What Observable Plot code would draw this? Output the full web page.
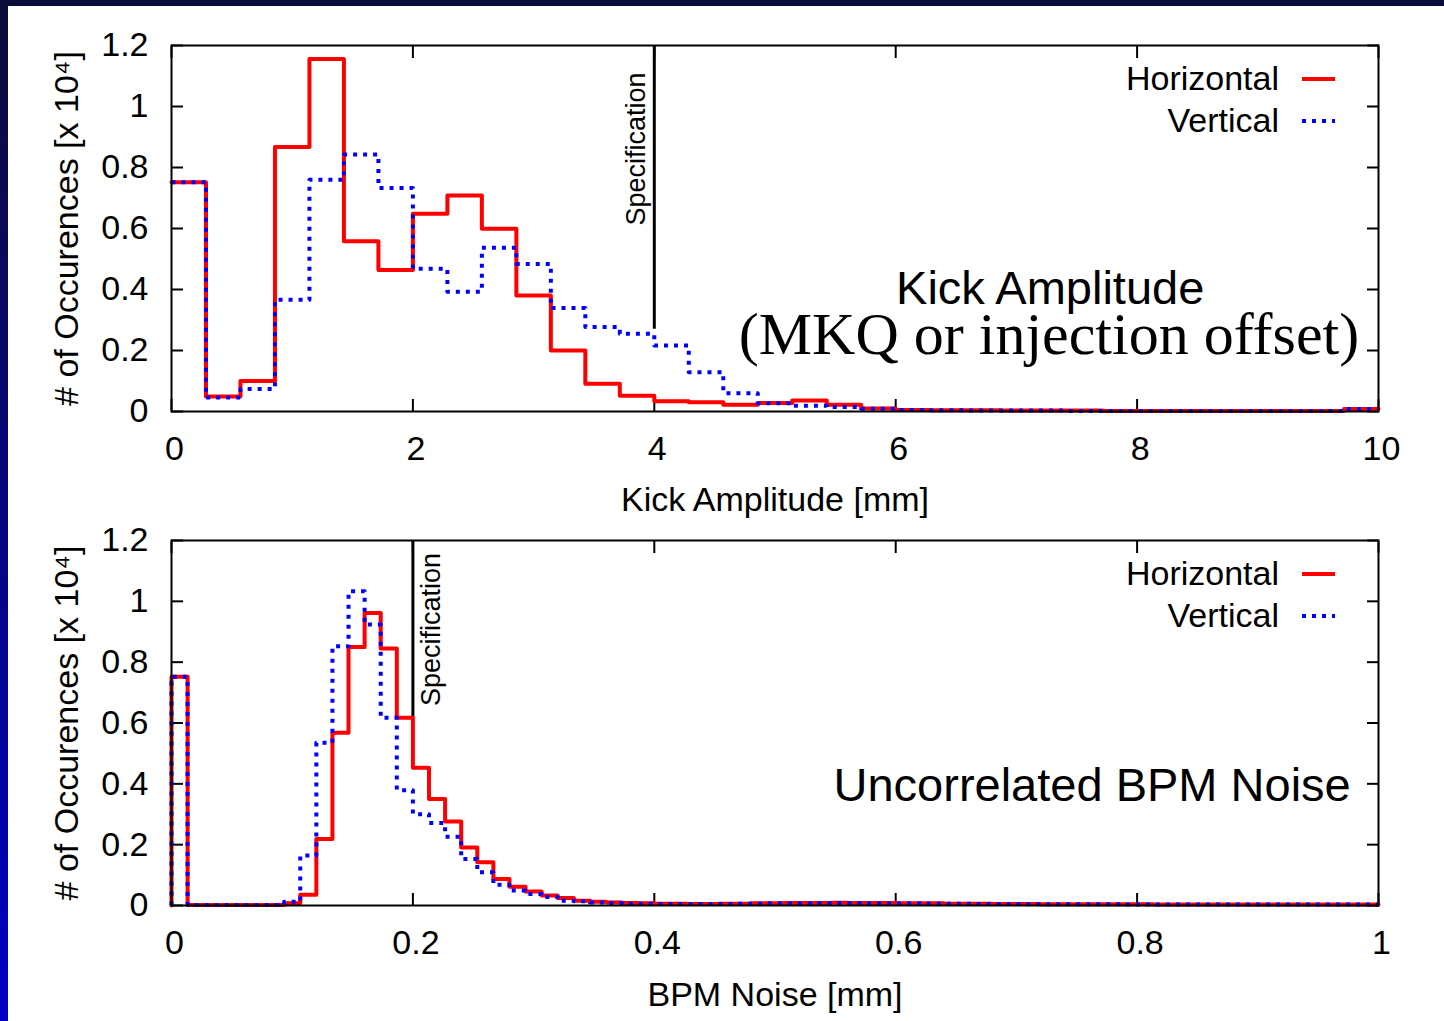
<!DOCTYPE html>
<html><head><meta charset="utf-8">
<script src="https://cdn.jsdelivr.net/npm/d3@7"></script>
<script src="https://cdn.jsdelivr.net/npm/@observablehq/plot@0.6"></script>
<style>
html,body{margin:0;padding:0;}
body{width:1444px;height:1021px;overflow:hidden;position:relative;background:linear-gradient(to bottom,#0c0c3a 0%,#0000c4 100%);}
#page{position:absolute;left:8px;top:6px;width:1436px;height:1015px;background:#fff;}
#page svg{display:block;}
</style></head><body><div id="page"></div>
<script>
// ---------- data ----------
const kickDomain = [0, 10];
const kickTicks = [0, 2, 4, 6, 8, 10];
const kickHorizontal = [0.752, 0.049, 0.100, 0.867, 1.156, 0.558, 0.464, 0.648, 0.708, 0.599, 0.380, 0.200, 0.091, 0.052, 0.034, 0.030, 0.022, 0.028, 0.036, 0.022, 0.010, 0.005, 0.004, 0.004, 0.003, 0.003, 0.003, 0.002, 0.002, 0.002, 0.002, 0.002, 0.002, 0.002, 0.008];
const kickVertical   = [0.752, 0.046, 0.074, 0.366, 0.760, 0.843, 0.733, 0.468, 0.393, 0.537, 0.484, 0.339, 0.277, 0.255, 0.216, 0.129, 0.060, 0.027, 0.019, 0.015, 0.009, 0.005, 0.004, 0.003, 0.003, 0.003, 0.002, 0.002, 0.002, 0.002, 0.002, 0.002, 0.002, 0.002, 0.008];
const kickSpec = [{x: 4, y1: 0.27, y2: 1.2, labelY: 0.61}];
const kickNotes = [
  {x: 7.28, y: 0.352, text: "Kick Amplitude", serif: false, size: 47},
  {x: 7.27, y: 0.188, text: "(MKQ or injection offset)", serif: true, size: 60}
];

const bpmDomain = [0, 1];
const bpmTicks = [0, 0.2, 0.4, 0.6, 0.8, 1];
const bpmHorizontal = [0.752, 0.002, 0.002, 0.002, 0.002, 0.002, 0.002, 0.007, 0.035, 0.219, 0.568, 0.850, 0.962, 0.845, 0.617, 0.453, 0.350, 0.276, 0.191, 0.142, 0.087, 0.062, 0.046, 0.033, 0.025, 0.016, 0.012, 0.010, 0.008, 0.007, 0.006, 0.006, 0.005, 0.005, 0.006, 0.006, 0.007, 0.007, 0.008, 0.008, 0.008, 0.009, 0.008, 0.008, 0.008, 0.007, 0.007, 0.007, 0.006, 0.006, 0.006, 0.005, 0.005, 0.005, 0.004, 0.004, 0.004, 0.004, 0.004, 0.004, 0.004, 0.003, 0.003, 0.003, 0.003, 0.003, 0.003, 0.003, 0.003, 0.003, 0.003, 0.003, 0.003, 0.003, 0.003];
const bpmVertical   = [0.752, 0.002, 0.002, 0.002, 0.002, 0.002, 0.002, 0.012, 0.164, 0.535, 0.852, 1.033, 0.924, 0.617, 0.379, 0.300, 0.271, 0.226, 0.153, 0.109, 0.068, 0.049, 0.038, 0.028, 0.016, 0.014, 0.010, 0.008, 0.006, 0.006, 0.005, 0.005, 0.005, 0.005, 0.005, 0.006, 0.006, 0.007, 0.007, 0.007, 0.008, 0.008, 0.008, 0.007, 0.007, 0.007, 0.007, 0.006, 0.006, 0.006, 0.005, 0.005, 0.005, 0.004, 0.004, 0.004, 0.004, 0.004, 0.004, 0.003, 0.003, 0.003, 0.003, 0.003, 0.003, 0.003, 0.003, 0.003, 0.003, 0.003, 0.003, 0.003, 0.003, 0.003, 0.003];
const bpmSpec = [{x: 0.2, y1: 0.62, y2: 1.2, labelY: 0.656}];
const bpmNotes = [
  {x: 0.977, y: 0.344, text: "Uncorrelated BPM Noise", serif: false, size: 47}
];

const yTicks = [0, 0.2, 0.4, 0.6, 0.8, 1, 1.2];
const yLabel = "# of Occurences [x 10\u2074]";
const series = [
  {label: "Horizontal", color: "#ff0000", width: 4, dash: null},
  {label: "Vertical", color: "#0000ff", width: 4, dash: "4,6"}
];

// ---------- drawing ----------
const SANS = "'Liberation Sans', Arial, Helvetica, sans-serif";
const SERIF = "'Liberation Serif', 'Times New Roman', serif";

function steps(vals, domain, dropStart) {
  const n = vals.length, w = (domain[1] - domain[0]) / n;
  const pts = vals.map((v, i) => ({x: domain[0] + i * w, y: v}));
  pts.push({x: domain[1], y: vals[n - 1]});
  if (dropStart) pts.unshift({x: domain[0], y: 0});
  return pts;
}

function legendMark(items) {
  return (index, scales, values, dims) => {
    const g = d3.create("svg:g");
    const right = dims.width - dims.marginRight;
    items.forEach((it, i) => {
      const base = dims.marginTop + 45 + i * 42;
      g.append("text").attr("x", right - 99).attr("y", base)
        .attr("text-anchor", "end").attr("font-size", 34).attr("fill", "black")
        .attr("font-family", SANS).text(it.label);
      const ln = g.append("line").attr("x1", right - 76).attr("x2", right - 43)
        .attr("y1", base - 11).attr("y2", base - 11)
        .attr("stroke", it.color).attr("stroke-width", it.width);
      if (it.dash) ln.attr("stroke-dasharray", it.dash);
    });
    return g.node();
  };
}

function panel(o) {
  const H = steps(o.h, o.domain, o.dropStart);
  const V = steps(o.v, o.domain, o.dropStart);
  const tickStyle = {stroke: "black", strokeWidth: 2, fill: "none", tickSize: 12, label: null};
  return Plot.plot({
    width: 1436, height: o.height,
    marginLeft: 163, marginRight: 66, marginTop: o.marginTop, marginBottom: o.marginBottom,
    x: {domain: o.domain}, y: {domain: [0, 1.2]},
    style: {fontFamily: SANS, fontSize: "34px", color: "black", background: "white", overflow: "visible"},
    marks: [
      Plot.axisY(yTicks, {anchor: "left", tickSize: 0, tickPadding: 23, tickFormat: d => String(d), fontSize: 34,
        label: yLabel, labelAnchor: "center", labelOffset: 118, labelArrow: "none"}),
      Plot.axisX(o.ticks, {anchor: "bottom", tickSize: 0, tickPadding: 24, dx: 3, tickFormat: d => String(d), fontSize: 34,
        label: o.xLabel, labelAnchor: "center", labelOffset: o.labelOffset, labelArrow: "none"}),
      Plot.axisY(yTicks, {...tickStyle, anchor: "left", dx: 12}),
      Plot.axisY(yTicks, {...tickStyle, anchor: "right", dx: -12}),
      Plot.axisX(o.ticks, {...tickStyle, anchor: "bottom", dy: -12}),
      Plot.axisX(o.ticks, {...tickStyle, anchor: "top", dy: 12}),
      Plot.ruleX(o.spec, {x: "x", y1: "y1", y2: "y2", stroke: "black", strokeWidth: 3}),
      Plot.text(o.spec, {x: "x", y: "labelY", text: () => "Specification", rotate: -90, textAnchor: "start",
        lineAnchor: "bottom", dx: o.specDx, fontSize: 27, fill: "black"}),
      Plot.line(H, {x: "x", y: "y", curve: "step-after", stroke: series[0].color, strokeWidth: series[0].width}),
      Plot.line(V, {x: "x", y: "y", curve: "step-after", stroke: series[1].color, strokeWidth: series[1].width,
        strokeDasharray: series[1].dash, strokeLinecap: "butt"}),
      Plot.text(o.notes.filter(d => !d.serif), {x: "x", y: "y", text: "text", fontSize: d => d.size, textAnchor: o.noteAnchor,
        lineAnchor: "bottom", fill: "black", fontFamily: SANS}),
      Plot.text(o.notes.filter(d => d.serif), {x: "x", y: "y", text: "text", fontSize: d => d.size, textAnchor: o.noteAnchor,
        lineAnchor: "bottom", fill: "black", fontFamily: SERIF}),
      Plot.frame({stroke: "black", strokeWidth: 2}),
      legendMark(series)
    ]
  });
}

const page = document.getElementById("page");
page.append(panel({
  height: 514, marginTop: 39, marginBottom: 109, domain: kickDomain, ticks: kickTicks,
  h: kickHorizontal, v: kickVertical, dropStart: false, spec: kickSpec, specDx: -9,
  notes: kickNotes, noteAnchor: "middle", xLabel: "Kick Amplitude [mm]", labelOffset: 99
}));
page.append(panel({
  height: 501, marginTop: 20, marginBottom: 116, domain: bpmDomain, ticks: bpmTicks,
  h: bpmHorizontal, v: bpmVertical, dropStart: true, spec: bpmSpec, specDx: 27,
  notes: bpmNotes, noteAnchor: "end", xLabel: "BPM Noise [mm]", labelOffset: 100
}));
</script></body></html>
